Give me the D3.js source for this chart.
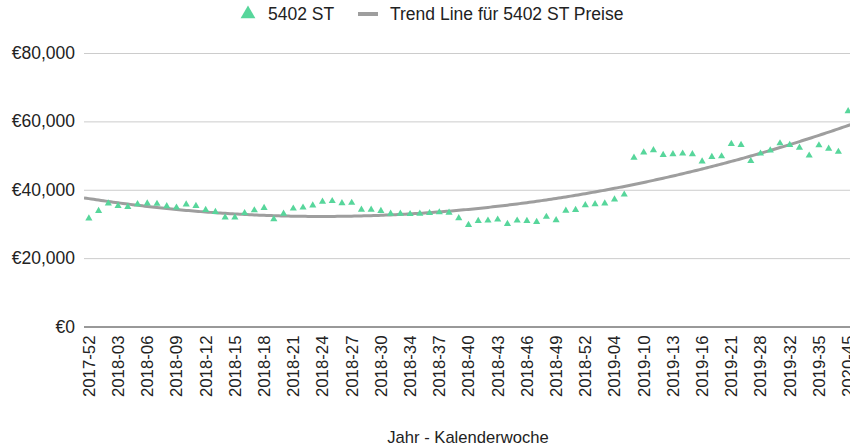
<!DOCTYPE html>
<html>
<head>
<meta charset="utf-8">
<script src="https://cdn.jsdelivr.net/npm/d3@7"></script>
<style>
  html, body { margin: 0; padding: 0; background: #fff; }
  svg { display: block; font-family: "Liberation Sans", Arial, sans-serif; }
</style>
</head>
<body>
<svg id="chart" width="850" height="448"></svg>
<script>
// ---- data ----
const categories = [
  "2017-52","2018-01","2018-02","2018-03","2018-04","2018-05","2018-06","2018-07","2018-08","2018-09",
  "2018-10","2018-11","2018-12","2018-13","2018-14","2018-15","2018-16","2018-17","2018-18","2018-19",
  "2018-20","2018-21","2018-22","2018-23","2018-24","2018-25","2018-26","2018-27","2018-28","2018-29",
  "2018-30","2018-32","2018-33","2018-34","2018-35","2018-36","2018-37","2018-38","2018-39","2018-40",
  "2018-41","2018-42","2018-43","2018-44","2018-45","2018-46","2018-47","2018-48","2018-49","2018-50",
  "2018-51","2018-52","2019-02","2019-03","2019-04","2019-06","2019-08","2019-10","2019-11","2019-12",
  "2019-13","2019-14","2019-15","2019-16","2019-17","2019-19","2019-21","2019-23","2019-26","2019-28",
  "2019-29","2019-31","2019-32","2019-33","2019-34","2019-35","2019-37","2020-40","2020-45"
];
const prices = [
  31600,33800,36000,35300,35000,35800,36000,35900,35200,34800,
  35700,35300,34100,33500,31900,31900,33200,34000,34700,31400,
  33000,34500,34800,35400,36500,36700,36100,36200,34200,34200,
  33800,33000,33000,32900,33000,33200,33400,33300,31700,29700,
  30900,31000,31300,30000,31000,30900,30600,32100,31100,33900,
  34100,35500,35800,36000,37200,38600,49400,50900,51600,50200,
  50400,50600,50400,48300,49600,49800,53400,53100,48400,50600,
  51500,53600,53100,52300,50000,53000,52000,51100,63000
];
const yTicks = [0, 20000, 40000, 60000, 80000];
const seriesName = "5402 ST";
const trendName = "Trend Line für 5402 ST Preise";
const xTitle = "Jahr - Kalenderwoche";

// ---- layout ----
const svg = d3.select("#chart");
const plotLeft = 84, plotRight = 853, plotTop = 53, plotBottom = 326.5;
const green = "#57d69b", trendColor = "#9e9e9e", textColor = "#222";

const x = d3.scaleBand().domain(categories).range([plotLeft, plotRight]).padding(0);
const y = d3.scaleLinear().domain([0, 80000]).range([plotBottom, plotTop]);
const fmt = v => "€" + d3.format(",")(v);

// grid lines + y labels
const yAxis = d3.axisLeft(y).tickValues(yTicks).tickSize(-(plotRight - plotLeft)).tickFormat(fmt).tickPadding(9);
const gy = svg.append("g").attr("transform", `translate(${plotLeft},0)`).call(yAxis);
gy.select(".domain").remove();
gy.selectAll(".tick line").attr("stroke", "#cccccc").attr("stroke-width", 1);
gy.selectAll(".tick text").attr("fill", textColor).style("font-size", "17.5px")
  .attr("font-family", "Liberation Sans, Arial, sans-serif");
gy.selectAll(".tick").filter(d => d === 0).select("line").attr("stroke", "#333333");

// x axis labels (every 3rd category)
const xAxis = d3.axisBottom(x).tickValues(categories.filter((c, i) => i % 3 === 0)).tickSize(0);
const gx = svg.append("g").attr("transform", `translate(0,${plotBottom})`).call(xAxis);
gx.select(".domain").remove();
gx.selectAll(".tick text")
  .attr("fill", textColor).style("font-size", "16.8px")
  .attr("font-family", "Liberation Sans, Arial, sans-serif")
  .attr("text-anchor", "end")
  .attr("transform", "rotate(-90)")
  .attr("x", -9).attr("y", 0).attr("dy", "0.35em");

// trend line: least-squares polynomial (degree 2) on category index
function polyFit(xs, ys, deg) {
  const n = deg + 1;
  const A = Array.from({length: n}, () => new Array(n + 1).fill(0));
  for (let k = 0; k < xs.length; k++) {
    const pw = [];
    for (let j = 0; j < 2 * n; j++) pw.push(Math.pow(xs[k], j));
    for (let r = 0; r < n; r++) {
      for (let c = 0; c < n; c++) A[r][c] += pw[r + c];
      A[r][n] += pw[r] * ys[k];
    }
  }
  for (let i = 0; i < n; i++) {
    let m = i;
    for (let r = i + 1; r < n; r++) if (Math.abs(A[r][i]) > Math.abs(A[m][i])) m = r;
    [A[i], A[m]] = [A[m], A[i]];
    for (let r = 0; r < n; r++) {
      if (r === i) continue;
      const f = A[r][i] / A[i][i];
      for (let c = i; c <= n; c++) A[r][c] -= f * A[i][c];
    }
  }
  return A.map((row, i) => row[n] / row[i]);
}
const idx = prices.map((d, i) => i);
const coef = polyFit(idx, prices, 2);
const evalPoly = t => coef.reduce((s, c, j) => s + c * Math.pow(t, j), 0);
const step = x.step();
const idxToX = t => x(categories[0]) + step / 2 + t * step;
const trendPts = d3.range(-0.5, categories.length - 0.5 + 0.001, 0.25).map(t => [idxToX(t), y(evalPoly(t))]);

svg.append("clipPath").attr("id", "plotclip").append("rect")
  .attr("x", plotLeft).attr("y", 0).attr("width", 850 - plotLeft).attr("height", plotBottom);
svg.append("path")
  .attr("clip-path", "url(#plotclip)")
  .attr("d", d3.line().curve(d3.curveLinear)(trendPts))
  .attr("fill", "none").attr("stroke", trendColor).attr("stroke-width", 3);

// points
const tri = d3.symbol().type(d3.symbolTriangle).size(22);
svg.append("g").selectAll("path").data(prices).join("path")
  .attr("d", tri)
  .attr("transform", (d, i) => `translate(${x(categories[i]) + step / 2},${y(d)})`)
  .attr("fill", green);

// legend
const lg = svg.append("g");
lg.append("path").attr("d", d3.symbol().type(d3.symbolTriangle).size(95)())
  .attr("transform", "translate(248,14)").attr("fill", green);
lg.append("text").attr("x", 268).attr("y", 20).text(seriesName)
  .attr("fill", textColor).style("font-size", "17.5px");
lg.append("line").attr("x1", 358).attr("x2", 378).attr("y1", 14).attr("y2", 14)
  .attr("stroke", trendColor).attr("stroke-width", 4);
lg.append("text").attr("x", 390).attr("y", 20).text(trendName)
  .attr("fill", textColor).style("font-size", "17.5px");

// x axis title
svg.append("text").attr("x", 468).attr("y", 443).attr("text-anchor", "middle")
  .text(xTitle).attr("fill", textColor).style("font-size", "16.6px");
</script>
</body>
</html>
